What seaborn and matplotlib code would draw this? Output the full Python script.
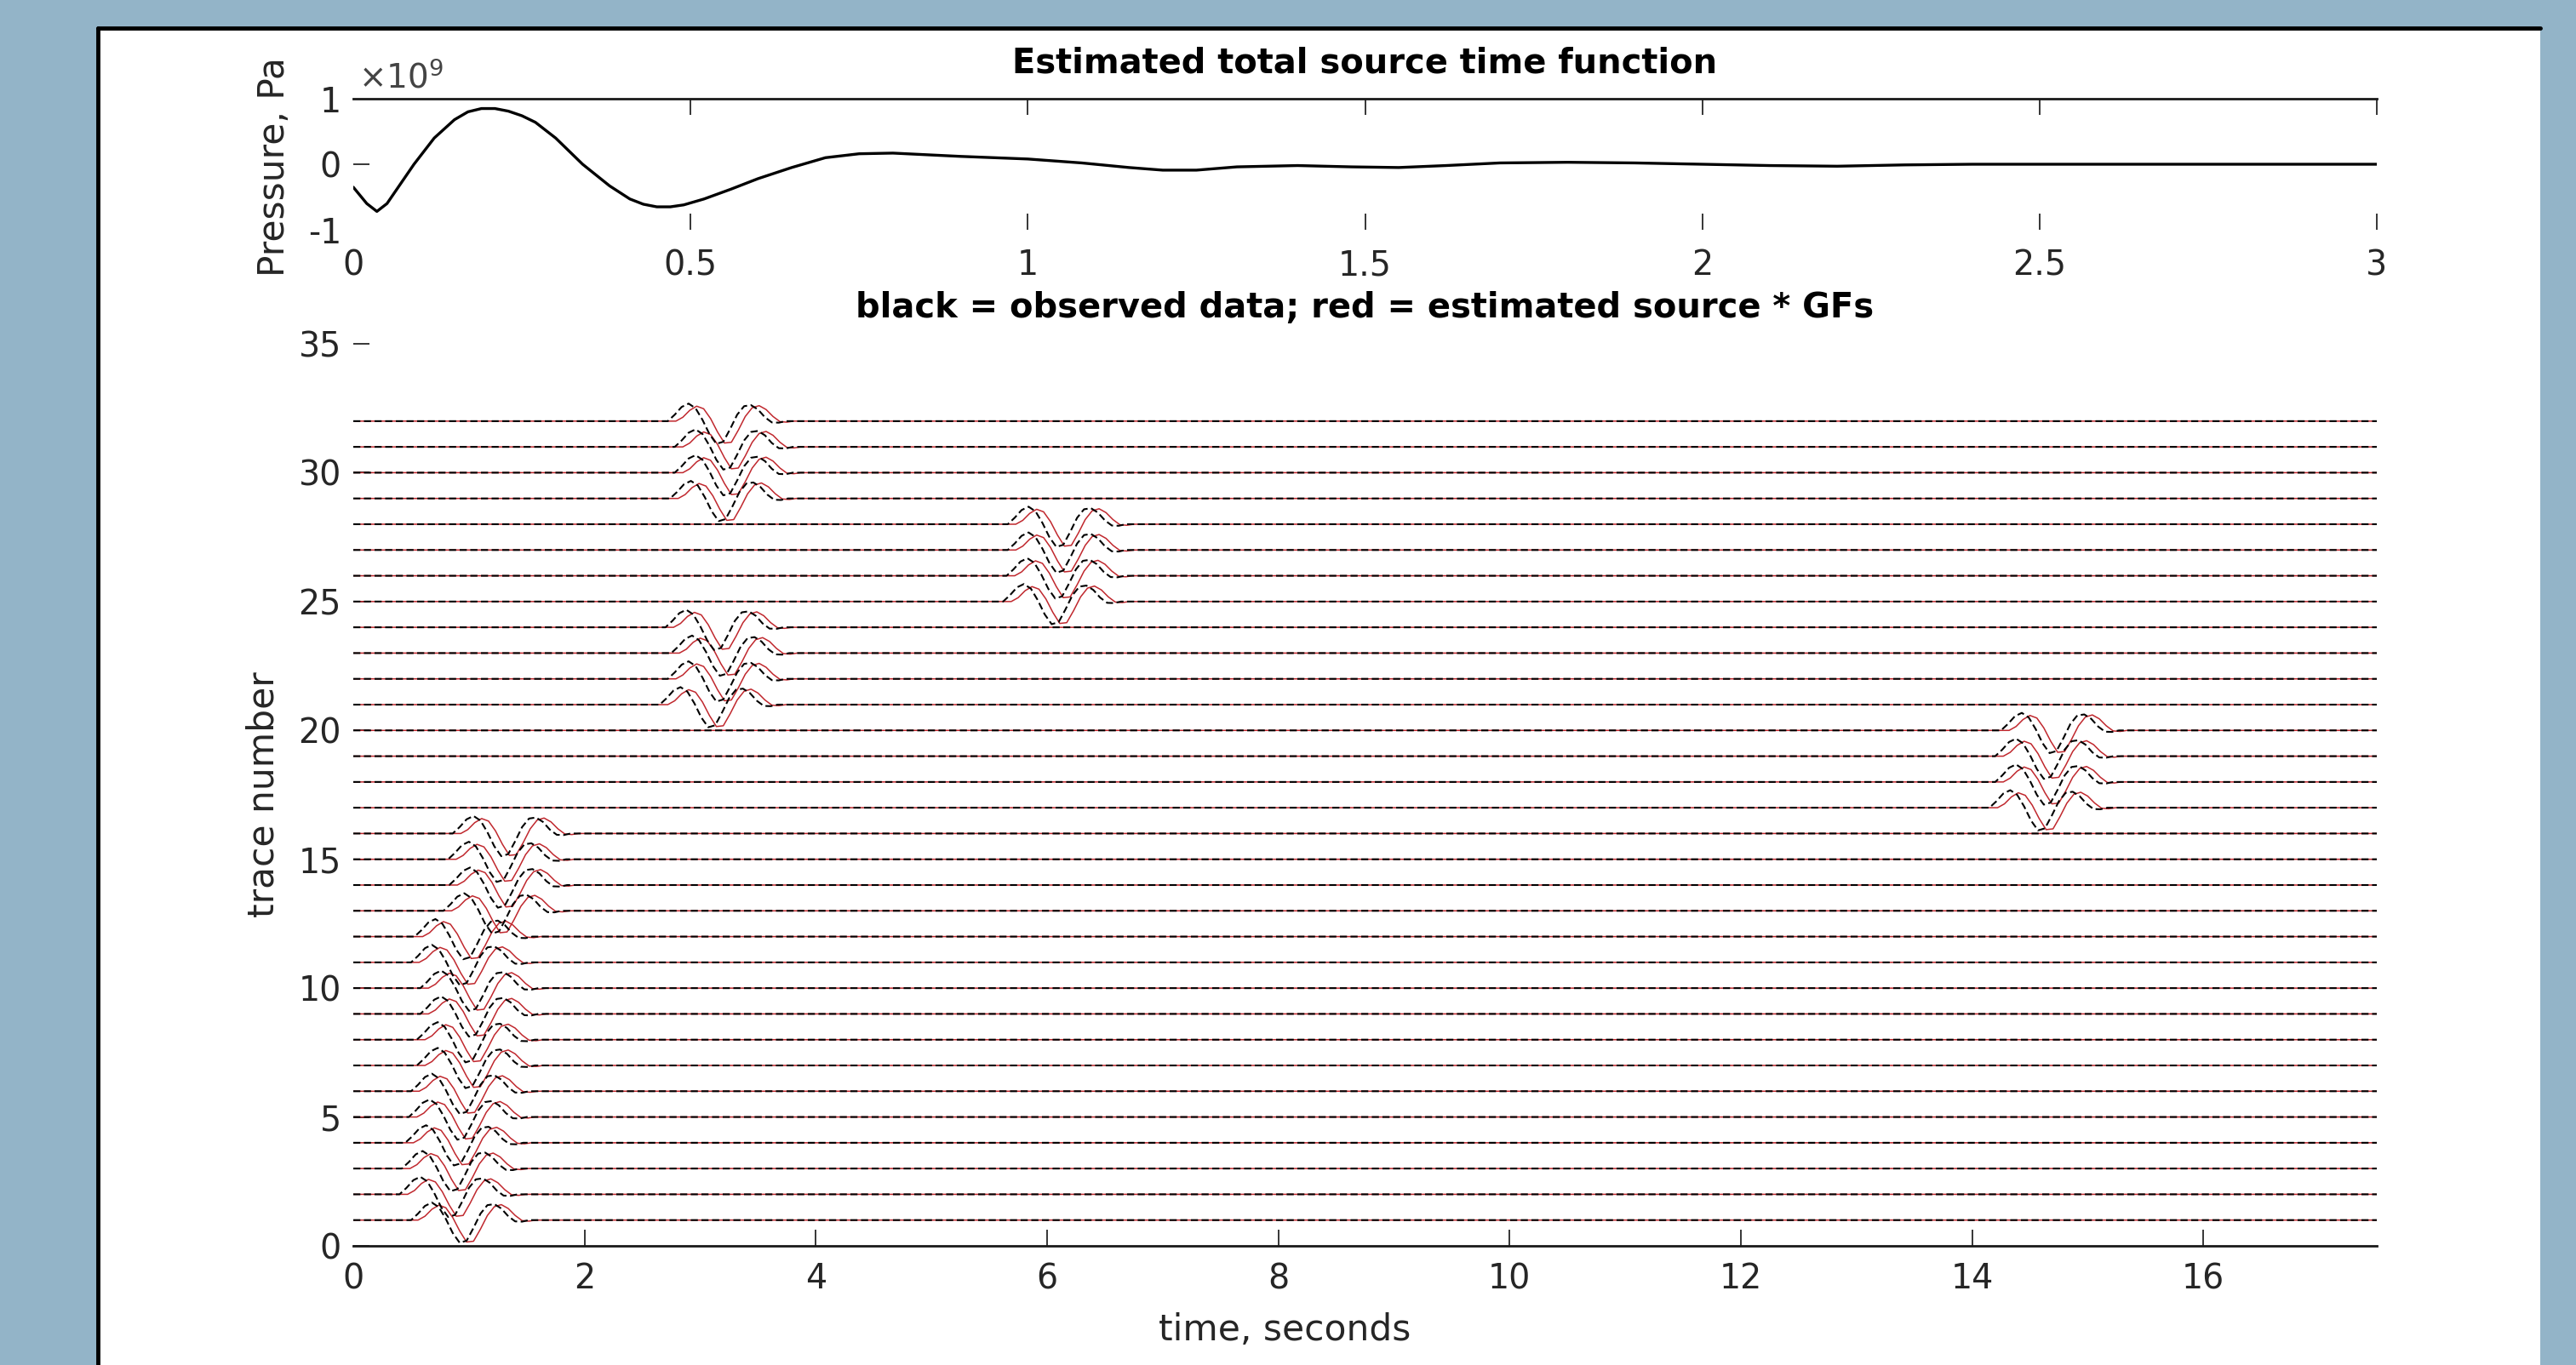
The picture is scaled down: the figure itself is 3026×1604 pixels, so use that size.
import numpy as np
import pandas as pd
import matplotlib
matplotlib.use("Agg")
import matplotlib.pyplot as plt
import seaborn as sns
from matplotlib.patches import Rectangle
from matplotlib.lines import Line2D

# ---------------- data ----------------
# Top panel: estimated total source time function (pressure in units of 1e9 Pa)
stf_time = [0.00, 0.02, 0.035, 0.05, 0.07, 0.09, 0.12, 0.15, 0.17, 0.19, 0.21,
            0.23, 0.25, 0.27, 0.30, 0.34, 0.38, 0.41, 0.43, 0.45, 0.47, 0.49,
            0.52, 0.56, 0.60, 0.65, 0.70, 0.75, 0.80, 0.90, 1.00, 1.08, 1.15,
            1.20, 1.25, 1.31, 1.40, 1.48, 1.55, 1.62, 1.70, 1.80, 1.90, 2.00,
            2.10, 2.20, 2.30, 2.40, 2.60, 2.80, 3.00]
stf_pressure = [-0.35, -0.60, -0.72, -0.60, -0.30, 0.00, 0.40, 0.68, 0.80,
                0.85, 0.85, 0.81, 0.74, 0.64, 0.40, 0.00, -0.33, -0.53, -0.61,
                -0.65, -0.65, -0.62, -0.53, -0.38, -0.22, -0.05, 0.10, 0.16,
                0.17, 0.12, 0.08, 0.02, -0.05, -0.09, -0.09, -0.04, -0.02,
                -0.04, -0.05, -0.02, 0.02, 0.03, 0.02, 0.00, -0.02, -0.03,
                -0.01, 0.00, 0.00, 0.00, 0.00]

# Bottom panel: 32 traces, onset time (s) of the arrival on each trace
trace_ids = list(range(1, 33))
onset_obs = [0.50, 0.40, 0.42, 0.45, 0.48, 0.50, 0.55, 0.55, 0.58, 0.58,
             0.50, 0.53, 0.78, 0.83, 0.82, 0.86, 14.15, 14.20, 14.20, 14.25,
             2.65, 2.72, 2.75, 2.70, 5.62, 5.65, 5.66, 5.66, 2.74, 2.78,
             2.78, 2.72]
onset_syn = [0.56, 0.47, 0.49, 0.52, 0.55, 0.57, 0.62, 0.62, 0.65, 0.65,
             0.57, 0.60, 0.85, 0.90, 0.89, 0.93, 14.22, 14.27, 14.27, 14.32,
             2.72, 2.79, 2.82, 2.77, 5.69, 5.72, 5.73, 5.73, 2.81, 2.85,
             2.85, 2.79]
# wavelet shape after onset (time offset in s, amplitude in trace units)
wave_dt = [0.00, 0.06, 0.12, 0.18, 0.24, 0.30, 0.36, 0.42, 0.48, 0.54, 0.60,
           0.66, 0.72, 0.78, 0.84, 0.90, 0.96, 1.02]
wave_obs = [0.00, 0.25, 0.55, 0.68, 0.50, 0.05, -0.50, -0.88, -0.80, -0.30,
            0.25, 0.58, 0.62, 0.45, 0.15, -0.05, -0.06, 0.00]
wave_syn = [0.00, 0.15, 0.42, 0.58, 0.48, 0.10, -0.42, -0.85, -0.82, -0.35,
            0.18, 0.52, 0.60, 0.45, 0.18, -0.02, -0.04, 0.00]
t_start, t_end = 0.0, 17.5

stf_ticks = [0, 0.5, 1, 1.5, 2, 2.5, 3]
stf_ticklabels = ["0", "0.5", "1", "1.5", "2", "2.5", "3"]
trace_xticks = [0, 2, 4, 6, 8, 10, 12, 14, 16]
trace_yticks = [0, 5, 10, 15, 20, 25, 30, 35]


def build(onsets, wave):
    rows = []
    for k, on in zip(trace_ids, onsets):
        times = [t_start] + [on + d for d in wave_dt] + [t_end]
        vals = [0.0] + list(wave) + [0.0]
        for t, v in zip(times, vals):
            rows.append({"trace": k, "time": t, "value": k + v})
    return pd.DataFrame(rows)


df_obs = build(onset_obs, wave_obs)
df_syn = build(onset_syn, wave_syn)
df_stf = pd.DataFrame({"time": stf_time, "pressure": stf_pressure})

# ---------------- styling ----------------
sns.set_style("white")
plt.rcParams["font.family"] = ["DejaVu Sans"]
TXT = "#262626"
FS = 28.5

W, H = 3026, 1604
fig = plt.figure(figsize=(W / 100, H / 100), dpi=100, facecolor="#93b4c8")

# white panel with black top/left border
fig.patches.append(Rectangle((115 / W, 0), (2984 - 115) / W, 1 - 33 / H,
                             transform=fig.transFigure, facecolor="white",
                             edgecolor="none", zorder=-10))
fig.lines.append(Line2D([115 / W, 2984 / W], [1 - 33 / H, 1 - 33 / H],
                        transform=fig.transFigure, color="black", lw=3.5))
fig.lines.append(Line2D([115 / W, 115 / W], [0, 1 - 33 / H],
                        transform=fig.transFigure, color="black", lw=3.5))

left = 415 / W
width = (2792 - 415) / W
ax1 = fig.add_axes([left, 1 - 270 / H, width, (270 - 116) / H])
ax2 = fig.add_axes([left, 1 - 1464 / H, width, (1464 - 404) / H])
for ax in (ax1, ax2):
    ax.set_facecolor("none")

# top panel
sns.lineplot(data=df_stf, x="time", y="pressure", ax=ax1, color="black",
             lw=2.4, sort=False, estimator=None)
ax1.set_xlim(0, 3)
ax1.set_ylim(-1, 1)
ax1.set_xticks(stf_ticks)
ax1.set_xticklabels(stf_ticklabels)
ax1.set_yticks([-1, 0, 1])
ax1.set_yticklabels(["-1", "0", "1"])
for s in ("left", "right", "bottom"):
    ax1.spines[s].set_visible(False)
ax1.spines["top"].set_color("#1a1a1a")
ax1.spines["top"].set_linewidth(2.0)
ax1.tick_params(axis="x", direction="in", length=14, width=1.3, top=True,
                bottom=True, labelsize=FS, pad=16, colors=TXT)
ax1.tick_params(axis="y", direction="in", length=14, width=1.3, left=True,
                labelsize=FS, pad=10, colors=TXT)
ytk = ax1.yaxis.get_major_ticks()
ytk[0].tick1line.set_visible(False)
ytk[2].tick1line.set_visible(False)
xtk = ax1.xaxis.get_major_ticks()
xtk[0].tick1line.set_visible(False)
xtk[0].tick2line.set_visible(False)
ax1.set_xlabel("")
ax1.set_ylabel("")

# bottom panel: red = synthetics, black dashed = observed
sns.lineplot(data=df_syn, x="time", y="value", units="trace", estimator=None,
             sort=False, ax=ax2, color="#c0282e", lw=1.1)
sns.lineplot(data=df_obs, x="time", y="value", units="trace", estimator=None,
             sort=False, ax=ax2, color="black", lw=1.5,
             linestyle=(0, (4, 2)))
ax2.set_xlim(t_start, t_end)
ax2.set_ylim(0, 35)
ax2.set_xticks(trace_xticks)
ax2.set_yticks(trace_yticks)
for s in ("left", "right", "top"):
    ax2.spines[s].set_visible(False)
ax2.spines["bottom"].set_color("#1a1a1a")
ax2.spines["bottom"].set_linewidth(2.0)
ax2.tick_params(axis="x", direction="in", length=14, width=1.3, bottom=True,
                labelsize=FS, pad=14, colors=TXT)
ax2.tick_params(axis="y", direction="in", length=14, width=1.3, left=True,
                labelsize=FS, pad=10, colors=TXT)
ax2.xaxis.get_major_ticks()[0].tick1line.set_visible(False)
ax2.set_xlabel("")
ax2.set_ylabel("")

# texts
cx = (415 + 2792) / 2 / W
fig.text(cx, 1 - 75 / H, "Estimated total source time function",
         ha="center", va="center", fontsize=28.8, fontweight="bold",
         color="black")
fig.text(cx, 1 - 362 / H,
         "black = observed data; red = estimated source * GFs",
         ha="center", va="center", fontsize=28.8, fontweight="bold",
         color="black")
fig.text(322 / W, 1 - 196 / H, "Pressure, Pa", rotation=90, ha="center",
         va="center", fontsize=30.5, color=TXT)
fig.text(309 / W, 1 - 934 / H, "trace number", rotation=90, ha="center",
         va="center", fontsize=30.5, color=TXT)
fig.text(1509 / W, 1 - 1563 / H, "time, seconds", ha="center", va="center",
         fontsize=30.5, color=TXT)
fig.text(421 / W, 1 - 104 / H, r"$\times10^{9}$", ha="left", va="baseline",
         fontsize=28, color="#444444")

fig.savefig("out.png", dpi=100, facecolor=fig.get_facecolor())
